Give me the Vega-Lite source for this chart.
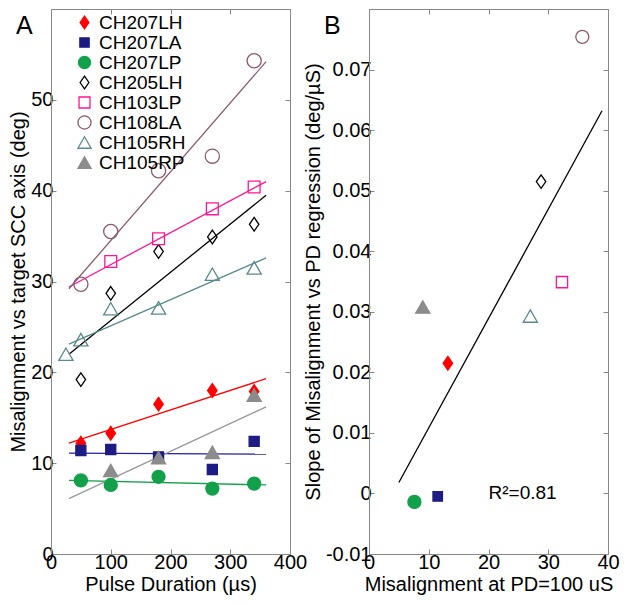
{
  "$schema": "https://vega.github.io/schema/vega-lite/v6.json",
  "autosize": {"type": "pad"},
  "padding": {"left": 8, "top": 8, "right": 5, "bottom": 5},
  "background": "white",
  "bounds": "flush",
  "spacing": 79,
  "datasets": {
    "ptsA": [
      {"series": "CH207LH", "x": 50, "y": 12.2}, {"series": "CH207LH", "x": 100, "y": 13.3}, {"series": "CH207LH", "x": 180, "y": 16.5}, {"series": "CH207LH", "x": 270, "y": 18.0}, {"series": "CH207LH", "x": 340, "y": 17.9},
      {"series": "CH207LA", "x": 50, "y": 11.4}, {"series": "CH207LA", "x": 100, "y": 11.5}, {"series": "CH207LA", "x": 180, "y": 10.7}, {"series": "CH207LA", "x": 270, "y": 9.3}, {"series": "CH207LA", "x": 340, "y": 12.4},
      {"series": "CH207LP", "x": 50, "y": 8.1}, {"series": "CH207LP", "x": 100, "y": 7.6}, {"series": "CH207LP", "x": 180, "y": 8.5}, {"series": "CH207LP", "x": 270, "y": 7.2}, {"series": "CH207LP", "x": 340, "y": 7.75},
      {"series": "CH205LH", "x": 50, "y": 19.2}, {"series": "CH205LH", "x": 100, "y": 28.7}, {"series": "CH205LH", "x": 180, "y": 33.3}, {"series": "CH205LH", "x": 270, "y": 34.9}, {"series": "CH205LH", "x": 340, "y": 36.3},
      {"series": "CH103LP", "x": 100, "y": 32.2}, {"series": "CH103LP", "x": 180, "y": 34.7}, {"series": "CH103LP", "x": 270, "y": 38.0}, {"series": "CH103LP", "x": 340, "y": 40.4},
      {"series": "CH108LA", "x": 50, "y": 29.7}, {"series": "CH108LA", "x": 100, "y": 35.5}, {"series": "CH108LA", "x": 180, "y": 42.2}, {"series": "CH108LA", "x": 270, "y": 43.8}, {"series": "CH108LA", "x": 340, "y": 54.3},
      {"series": "CH105RH", "x": 25, "y": 22.0}, {"series": "CH105RH", "x": 50, "y": 23.6}, {"series": "CH105RH", "x": 100, "y": 27.0}, {"series": "CH105RH", "x": 180, "y": 27.1}, {"series": "CH105RH", "x": 270, "y": 30.8}, {"series": "CH105RH", "x": 340, "y": 31.5},
      {"series": "CH105RP", "x": 100, "y": 9.2}, {"series": "CH105RP", "x": 180, "y": 10.6}, {"series": "CH105RP", "x": 270, "y": 11.2}, {"series": "CH105RP", "x": 340, "y": 17.5}
    ],
    "fitA": [
      {"series": "CH207LH", "x": 30, "y": 12.2}, {"series": "CH207LH", "x": 360, "y": 19.3},
      {"series": "CH207LA", "x": 30, "y": 11.1}, {"series": "CH207LA", "x": 360, "y": 11.0},
      {"series": "CH207LP", "x": 30, "y": 8.1}, {"series": "CH207LP", "x": 360, "y": 7.6},
      {"series": "CH205LH", "x": 30, "y": 22.0}, {"series": "CH205LH", "x": 360, "y": 39.5},
      {"series": "CH103LP", "x": 30, "y": 29.4}, {"series": "CH103LP", "x": 360, "y": 41.0},
      {"series": "CH108LA", "x": 30, "y": 29.2}, {"series": "CH108LA", "x": 360, "y": 54.2},
      {"series": "CH105RH", "x": 30, "y": 23.1}, {"series": "CH105RH", "x": 360, "y": 32.6},
      {"series": "CH105RP", "x": 30, "y": 6.1}, {"series": "CH105RP", "x": 360, "y": 16.2}
    ],
    "ptsB": [
      {"series": "CH207LH", "x": 13.2, "y": 0.0215},
      {"series": "CH207LA", "x": 11.5, "y": -0.0005},
      {"series": "CH207LP", "x": 7.6, "y": -0.0014},
      {"series": "CH205LH", "x": 28.8, "y": 0.0515},
      {"series": "CH103LP", "x": 32.3, "y": 0.0349},
      {"series": "CH108LA", "x": 35.7, "y": 0.0754},
      {"series": "CH105RH", "x": 27.0, "y": 0.0293},
      {"series": "CH105RP", "x": 9.0, "y": 0.0308}
    ],
    "fitB": [
      {"x": 5, "y": 0.0018}, {"x": 39, "y": 0.0632}
    ],
    "txtB": [
      {"x": 20, "y": 0, "label": "R²=0.81"}
    ]
  },
  "hconcat": [
    {
      "width": 239,
      "height": 545,
      "title": {"text": "A", "frame": "group", "anchor": "start", "orient": "top", "offset": -30, "dx": -35, "fontSize": 25, "fontWeight": "normal", "font": "Liberation Sans", "color": "#000"},
      "layer": [
        {
          "data": {"name": "fitA"},
          "mark": {"type": "line", "strokeWidth": 1.3},
          "encoding": {
            "x": {"field": "x", "type": "quantitative", "scale": {"domain": [0, 400], "nice": false}, "axis": {"orient": "top", "labels": false, "title": null, "values": [0, 100, 200, 300, 400]}},
            "y": {"field": "y", "type": "quantitative", "scale": {"domain": [0, 60], "nice": false}, "axis": {"orient": "right", "labels": false, "title": null, "values": [0, 10, 20, 30, 40, 50]}},
            "color": {"field": "series", "type": "nominal", "legend": null,
              "scale": {"range": ["#ff1493", "#5a8a8e", "#999999", "#8c5a6e", "#000000", "#2020a0", "#ff0000", "#13a04b"]}},
            "detail": {"field": "series"}
          }
        },
        {
          "data": {"name": "ptsA"},
          "mark": {"type": "point", "size": 140, "strokeWidth": 1.3, "opacity": 1},
          "encoding": {
            "x": {"field": "x", "type": "quantitative", "scale": {"domain": [0, 400], "nice": false}, "axis": {"orient": "bottom", "title": "Pulse Duration (µs)", "values": [0, 100, 200, 300, 400]}},
            "y": {"field": "y", "type": "quantitative", "scale": {"domain": [0, 60], "nice": false}, "axis": {"orient": "left", "title": "Misalignment vs target SCC axis (deg)", "values": [0, 10, 20, 30, 40, 50]}},
            "stroke": {"field": "series", "type": "nominal", "legend": {"orient": "none", "legendX": 24, "legendY": 4, "title": null},
              "scale": {"domain": ["CH207LH", "CH207LA", "CH207LP", "CH205LH", "CH103LP", "CH108LA", "CH105RH", "CH105RP"], "range": ["#ff0000", "#1c1c84", "#13a04b", "#000000", "#ff1493", "#8c5a6e", "#5a8a8e", "#8c8c8c"]}},
            "fill": {"field": "series", "type": "nominal", "legend": {"orient": "none", "legendX": 24, "legendY": 4, "title": null},
              "scale": {"domain": ["CH207LH", "CH207LA", "CH207LP", "CH205LH", "CH103LP", "CH108LA", "CH105RH", "CH105RP"], "range": ["#ff0000", "#1c1c84", "#13a04b", "transparent", "transparent", "transparent", "transparent", "#8c8c8c"]}},
            "shape": {"field": "series", "type": "nominal", "legend": {"orient": "none", "legendX": 24, "legendY": 4, "title": null},
              "scale": {"domain": ["CH207LH", "CH207LA", "CH207LP", "CH205LH", "CH103LP", "CH108LA", "CH105RH", "CH105RP"], "range": ["M0,-1.15L0.8,0L0,1.15L-0.8,0Z", "M-0.85,-0.85H0.85V0.85H-0.85Z", "M-1.1,0A1.1,1.1,0,1,0,1.1,0A1.1,1.1,0,1,0,-1.1,0Z", "M0,-1.15L0.8,0L0,1.15L-0.8,0Z", "M-1,-1H1V1H-1Z", "M-1.2,0A1.2,1.2,0,1,0,1.2,0A1.2,1.2,0,1,0,-1.2,0Z", "M0,-1.05L1.2,1.05L-1.2,1.05Z", "M0,-1.05L1.2,1.05L-1.2,1.05Z"]}}
          }
        }
      ],
      "resolve": {"axis": {"x": "independent", "y": "independent"}}
    },
    {
      "width": 239,
      "height": 545,
      "title": {"text": "B", "frame": "group", "anchor": "start", "orient": "top", "offset": -30, "dx": -45, "fontSize": 25, "fontWeight": "normal", "font": "Liberation Sans", "color": "#000"},
      "layer": [
        {
          "data": {"name": "fitB"},
          "mark": {"type": "line", "strokeWidth": 1.3, "color": "#000"},
          "encoding": {
            "x": {"field": "x", "type": "quantitative", "scale": {"domain": [0, 40], "nice": false}, "axis": {"orient": "top", "labels": false, "title": null, "values": [0, 10, 20, 30, 40]}},
            "y": {"field": "y", "type": "quantitative", "scale": {"domain": [-0.01, 0.08], "nice": false}, "axis": {"orient": "right", "labels": false, "title": null, "values": [-0.01, 0, 0.01, 0.02, 0.03, 0.04, 0.05, 0.06, 0.07]}}
          }
        },
        {
          "data": {"name": "ptsB"},
          "mark": {"type": "point", "size": 140, "strokeWidth": 1.3, "opacity": 1},
          "encoding": {
            "x": {"field": "x", "type": "quantitative", "scale": {"domain": [0, 40], "nice": false}, "axis": {"orient": "bottom", "title": "Misalignment at PD=100 uS", "values": [0, 10, 20, 30, 40]}},
            "y": {"field": "y", "type": "quantitative", "scale": {"domain": [-0.01, 0.08], "nice": false}, "axis": {"orient": "left", "title": "Slope of Misalignment vs PD regression (deg/µS)", "values": [-0.01, 0, 0.01, 0.02, 0.03, 0.04, 0.05, 0.06, 0.07], "labelExpr": "datum.value == 0 ? '0' : (datum.value < 0 ? '-' + format(-datum.value, '.2f') : format(datum.value, '.2f'))"}},
            "stroke": {"field": "series", "type": "nominal", "legend": null,
              "scale": {"domain": ["CH207LH", "CH207LA", "CH207LP", "CH205LH", "CH103LP", "CH108LA", "CH105RH", "CH105RP"], "range": ["#ff0000", "#1c1c84", "#13a04b", "#000000", "#ff1493", "#8c5a6e", "#5a8a8e", "#8c8c8c"]}},
            "fill": {"field": "series", "type": "nominal", "legend": null,
              "scale": {"domain": ["CH207LH", "CH207LA", "CH207LP", "CH205LH", "CH103LP", "CH108LA", "CH105RH", "CH105RP"], "range": ["#ff0000", "#1c1c84", "#13a04b", "transparent", "transparent", "transparent", "transparent", "#8c8c8c"]}},
            "shape": {"field": "series", "type": "nominal", "legend": null,
              "scale": {"domain": ["CH207LH", "CH207LA", "CH207LP", "CH205LH", "CH103LP", "CH108LA", "CH105RH", "CH105RP"], "range": ["M0,-1.15L0.8,0L0,1.15L-0.8,0Z", "M-0.8,-0.8H0.8V0.8H-0.8Z", "M-1.1,0A1.1,1.1,0,1,0,1.1,0A1.1,1.1,0,1,0,-1.1,0Z", "M0,-1.15L0.8,0L0,1.15L-0.8,0Z", "M-0.95,-0.95H0.95V0.95H-0.95Z", "M-1.1,0A1.1,1.1,0,1,0,1.1,0A1.1,1.1,0,1,0,-1.1,0Z", "M0,-1.05L1.2,1.05L-1.2,1.05Z", "M0,-1.05L1.2,1.05L-1.2,1.05Z"]}}
          }
        },
        {
          "data": {"name": "txtB"},
          "mark": {"type": "text", "align": "left", "baseline": "middle", "fontSize": 19, "font": "Liberation Sans", "color": "#000"},
          "encoding": {
            "x": {"field": "x", "type": "quantitative", "axis": null},
            "y": {"field": "y", "type": "quantitative", "axis": null},
            "text": {"field": "label"}
          }
        }
      ],
      "resolve": {"axis": {"x": "independent", "y": "independent"}}
    }
  ],
  "resolve": {"scale": {"stroke": "independent", "fill": "independent", "shape": "independent"}, "legend": {"stroke": "independent", "fill": "independent", "shape": "independent"}},
  "config": {
    "font": "Liberation Sans",
    "view": {"stroke": null},
    "axis": {
      "grid": false,
      "labelFont": "Liberation Sans",
      "titleFont": "Liberation Sans",
      "labelFontSize": 20,
      "titleFontSize": 20,
      "titleFontWeight": "normal",
      "labelColor": "#000",
      "titleColor": "#000",
      "domainColor": "#888",
      "tickColor": "#888",
      "tickSize": -5,
      "labelPadding": 3,
      "titlePadding": 2,
      "labelFlush": false,
      "labelOverlap": false
    },
    "legend": {
      "labelFont": "Liberation Sans",
      "labelFontSize": 19,
      "labelColor": "#000",
      "symbolSize": 120,
      "symbolStrokeWidth": 1.3,
      "labelOffset": 5,
      "rowPadding": -6,
      "padding": 0
    },
    "title": {"fontWeight": "normal"}
  }
}
